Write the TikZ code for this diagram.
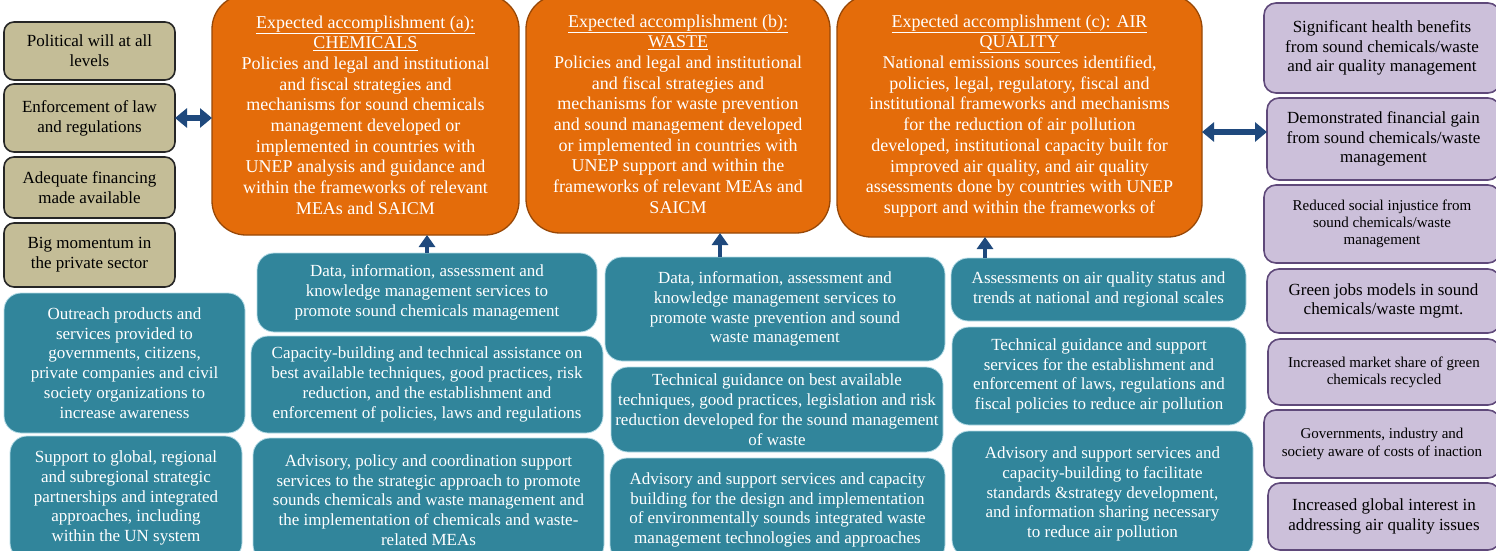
\documentclass[tikz,border=0pt]{standalone}
\usepackage{fontspec}
\setmainfont{Liberation Serif}
\usetikzlibrary{arrows.meta}

\definecolor{condfill}{RGB}{196,189,151}
\definecolor{condline}{RGB}{38,38,38}
\definecolor{goalfill}{RGB}{228,108,10}
\definecolor{goalline}{RGB}{152,72,7}
\definecolor{servfill}{RGB}{49,133,155}
\definecolor{servline}{RGB}{183,221,232}
\definecolor{impfill}{RGB}{204,192,218}
\definecolor{impline}{RGB}{95,73,122}
\definecolor{arrowblue}{RGB}{31,73,125}

\newcommand{\fsgoal}{\fontsize{18pt}{20.7pt}\selectfont}
\newcommand{\fsbox}{\fontsize{17pt}{19.8pt}\selectfont}
\newcommand{\fssmall}{\fontsize{15pt}{17.3pt}\selectfont}

\tikzset{
  card/.style={align=center, inner sep=2pt, outer sep=0pt},
  cond/.style={card, draw=condline, fill=condfill, line width=1.6pt, rounded corners=10pt, font=\fsbox},
  goal/.style={card, draw=goalline, fill=goalfill, text=white, line width=1.3pt, rounded corners=34pt, font=\fsgoal},
  serv/.style={card, draw=servline, fill=servfill, text=white, line width=0.8pt, rounded corners=17pt, font=\fsbox},
  impact/.style={card, draw=impline, fill=impfill, line width=1.6pt, rounded corners=12pt, font=\fsbox},
  biarrow/.style={{Triangle[width=19pt,length=12pt]}-{Triangle[width=19pt,length=12pt]}, draw=arrowblue, line width=6pt},
  uparrow/.style={-{Triangle[width=16pt,length=12pt]}, draw=arrowblue, line width=4pt}
}

\begin{document}
\begin{tikzpicture}[x=1pt, y=-1pt]
\useasboundingbox (0,0) rectangle (1496,551);
\clip (0,0) rectangle (1496,551);
\fill[white] (0,0) rectangle (1496,551);

% conditions on the left
\node[cond, minimum width=171pt, minimum height=58pt] (will) at (89.5,51) {Political will at all\\levels};
\node[cond, minimum width=171pt, minimum height=68pt] (law) at (89.5,118) {Enforcement of law\\and regulations};
\node[cond, minimum width=171pt, minimum height=61pt] (finance) at (89.5,187.5) {Adequate financing\\made available};
\node[cond, minimum width=171pt, minimum height=64pt] (momentum) at (89.5,255) {Big momentum in\\the private sector};

% cross-cutting services
\node[serv, minimum width=241pt, minimum height=140pt] (outreach) at (124.5,363) {Outreach products and\\services provided to\\governments, citizens,\\private companies and civil\\society organizations to\\increase awareness};
\node[serv, minimum width=232pt, minimum height=124pt] (partner) at (126,498) {Support to global, regional\\and subregional strategic\\partnerships and integrated\\approaches, including\\within the UN system};

% expected accomplishments
\node[goal, minimum width=307pt, minimum height=240pt] (chem) at (365.5,115) {\underline{Expected accomplishment (a):}\\\underline{CHEMICALS}\\Policies and legal and institutional\\and fiscal strategies and\\mechanisms for sound chemicals\\management developed or\\implemented in countries with\\UNEP analysis and guidance and\\within the frameworks of relevant\\MEAs and SAICM};
\node[goal, minimum width=304pt, minimum height=238pt] (waste) at (678,114) {\underline{Expected accomplishment (b):}\\\underline{WASTE}\\Policies and legal and institutional\\and fiscal strategies and\\mechanisms for waste prevention\\and sound management developed\\or implemented in countries with\\UNEP support and within the\\frameworks of relevant MEAs and\\SAICM};
\node[goal, minimum width=365pt, minimum height=242pt] (air) at (1019.5,116) {\underline{Expected accomplishment (c): AIR}\\\underline{QUALITY}\\National emissions sources identified,\\policies, legal, regulatory, fiscal and\\institutional frameworks and mechanisms\\for the reduction of air pollution\\developed, institutional capacity built for\\improved air quality, and air quality\\assessments done by countries with UNEP\\support and within the frameworks of};

% services for chemicals
\node[serv, minimum width=340pt, minimum height=79pt] (chemdata) at (427,292.5) {Data, information, assessment and\\knowledge management services to\\promote sound chemicals management};
\node[serv, minimum width=352pt, minimum height=97pt] (chemcap) at (427,384.5) {Capacity-building and technical assistance on\\best available techniques, good practices, risk\\reduction, and the establishment and\\enforcement of policies, laws and regulations};
\node[serv, minimum width=351pt, minimum height=124pt] (chemadv) at (428.5,500) {Advisory, policy and coordination support\\services to the strategic approach to promote\\sounds chemicals and waste management and\\the implementation of chemicals and waste-\\related MEAs};

% services for waste
\node[serv, minimum width=340pt, minimum height=104pt] (wastedata) at (775,309) {Data, information, assessment and\\knowledge management services to\\promote waste prevention and sound\\waste management};
\node[serv, minimum width=332pt, minimum height=85pt] (wastetech) at (777,409.5) {Technical guidance on best available\\techniques, good practices, legislation and risk\\reduction developed for the sound management\\of waste};
\node[serv, minimum width=335pt, minimum height=104pt] (wasteadv) at (777.5,510) {Advisory and support services and capacity\\building for the design and implementation\\of environmentally sounds integrated waste\\management technologies and approaches};

% services for air quality
\node[serv, minimum width=295pt, minimum height=63pt] (airdata) at (1098.5,289.5) {Assessments on air quality status and\\trends at national and regional scales};
\node[serv, minimum width=294pt, minimum height=98pt] (airtech) at (1099,376) {Technical guidance and support\\services for the establishment and\\enforcement of laws, regulations and\\fiscal policies to reduce air pollution};
\node[serv, minimum width=301pt, minimum height=126pt] (airadv) at (1102.5,494) {Advisory and support services and\\capacity-building to facilitate\\standards \&strategy development,\\and information sharing necessary\\to reduce air pollution};

% impacts on the right
\node[impact, minimum width=236pt, minimum height=90pt] (health) at (1382,48) {Significant health benefits\\from sound chemicals/waste\\and air quality management};
\node[impact, minimum width=233pt, minimum height=82pt] (gain) at (1383.5,139) {Demonstrated financial gain\\from sound chemicals/waste\\management};
\node[impact, font=\fssmall, minimum width=236pt, minimum height=78pt] (justice) at (1382,224) {Reduced social injustice from\\sound chemicals/waste\\management};
\node[impact, minimum width=233pt, minimum height=64pt] (jobs) at (1383.5,301) {Green jobs models in sound\\chemicals/waste mgmt.};
\node[impact, font=\fssmall, minimum width=232pt, minimum height=66pt] (market) at (1384,372) {Increased market share of green\\chemicals recycled};
\node[impact, font=\fssmall, minimum width=236pt, minimum height=68pt] (costs) at (1382,444) {Governments, industry and\\society aware of costs of inaction};
\node[impact, minimum width=232pt, minimum height=67pt] (interest) at (1384,516.5) {Increased global interest in\\addressing air quality issues};

% arrows
\draw[biarrow] (law.east) -- (chem.west |- law.east);
\draw[biarrow] (air.east |- 0,132) -- (gain.west |- 0,132);
\draw[uparrow] (chemdata.north) -- (chemdata.north |- chem.south);
\draw[uparrow] (wastedata.north -| 720,0) -- (waste.south -| 720,0);
\draw[uparrow] (airdata.north -| 985,0) -- (air.south -| 985,0);
\end{tikzpicture}
\end{document}
